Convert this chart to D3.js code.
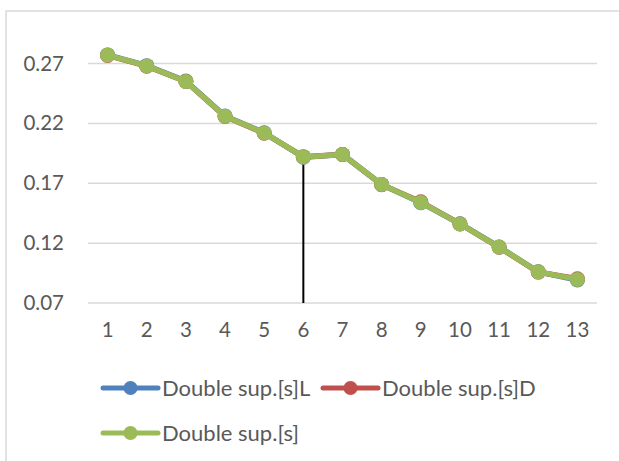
<!DOCTYPE html>
<html><head><meta charset="utf-8">
<script src="https://cdn.jsdelivr.net/npm/d3@7"></script>
<style>html,body{margin:0;padding:0;background:#fff;}svg{display:block;}</style>
</head><body>
<script>
const categories = ["1","2","3","4","5","6","7","8","9","10","11","12","13"];
const seriesNames = ["Double sup.[s]L","Double sup.[s]D","Double sup.[s]"];
const valuesL = [0.2772,0.2682,0.2553,0.2262,0.2122,0.1918,0.1940,0.1690,0.1538,0.1362,0.1168,0.0960,0.0892];
const valuesD = [0.2768,0.2678,0.2550,0.2258,0.2118,0.1922,0.1940,0.1688,0.1545,0.1360,0.1165,0.0958,0.0902];
const valuesS = [0.2770,0.2680,0.2550,0.2260,0.2120,0.1920,0.1940,0.1690,0.1540,0.1360,0.1167,0.0960,0.0897];
const yTicks = [0.07,0.12,0.17,0.22,0.27];
const markerCategory = "6";
const colors = ["#4F81BD","#C0504D","#9BBB59"];

const W=619,H=461;
const svg=d3.select("body").append("svg").attr("width",W).attr("height",H);
svg.append("rect").attr("x",6).attr("y",11).attr("width",700).attr("height",600)
  .attr("fill","#fff").attr("stroke","#D9D9D9").attr("stroke-width",1.5);

const x=d3.scaleBand().domain(categories).range([88,597]);
const y=d3.scaleLinear().domain([0.07,0.27]).range([303,63.5]);
const font="Lato, 'Open Sans', sans-serif";
const txt="#595959";

// gridlines
svg.append("g").selectAll("line").data(yTicks).join("line")
  .attr("x1",88).attr("x2",597).attr("y1",d=>y(d)).attr("y2",d=>y(d))
  .attr("stroke","#D9D9D9").attr("stroke-width",1.5);

// y axis labels
const yAxis=d3.axisLeft(y).tickValues(yTicks).tickFormat(d3.format(".2f")).tickSize(0).tickPadding(0);
const ga=svg.append("g").attr("transform","translate(64,0)").call(yAxis);
ga.select(".domain").remove();
ga.selectAll("text").attr("font-family",font).attr("font-size",20.5).attr("fill",txt);

// x axis labels
const xAxis=d3.axisBottom(x).tickSize(0).tickPadding(0);
const gx=svg.append("g").attr("transform","translate(0,323)").call(xAxis);
gx.select(".domain").remove();
gx.selectAll("text").attr("font-family",font).attr("font-size",20.5).attr("fill",txt).attr("dy","0.7em");

// vertical line
svg.append("line").attr("x1",x(markerCategory)+x.bandwidth()/2).attr("x2",x(markerCategory)+x.bandwidth()/2)
  .attr("y1",y(valuesS[categories.indexOf(markerCategory)])+2).attr("y2",y(0.07))
  .attr("stroke","#000").attr("stroke-width",2);

const cx=d=>x(d)+x.bandwidth()/2;
const all=[valuesL,valuesD,valuesS];
const line=d3.line().x((d,i)=>cx(categories[i])).y(d=>y(d));
all.forEach((vals,k)=>{
  const g=svg.append("g");
  g.append("path").attr("d",line(vals)).attr("fill","none").attr("stroke",colors[k])
    .attr("stroke-width",5.5).attr("stroke-linejoin","round").attr("stroke-linecap","round");
  g.selectAll("circle").data(vals).join("circle").attr("cx",(d,i)=>cx(categories[i])).attr("cy",d=>y(d))
    .attr("r",7.5).attr("fill",colors[k]);
});

// legend
const leg=[{n:seriesNames[0],c:colors[0],x:103,y:388},{n:seriesNames[1],c:colors[1],x:323,y:388},{n:seriesNames[2],c:colors[2],x:103,y:433}];
const lg=svg.append("g").selectAll("g").data(leg).join("g").attr("transform",d=>`translate(${d.x},${d.y})`);
lg.append("line").attr("x1",0).attr("x2",55).attr("stroke",d=>d.c).attr("stroke-width",5).attr("stroke-linecap","round");
lg.append("circle").attr("cx",27.5).attr("r",7).attr("fill",d=>d.c);
lg.append("text").attr("x",59).attr("dy","0.35em").attr("font-family",font).attr("font-size",22).attr("fill",txt).text(d=>d.n);
</script>
</body></html>
